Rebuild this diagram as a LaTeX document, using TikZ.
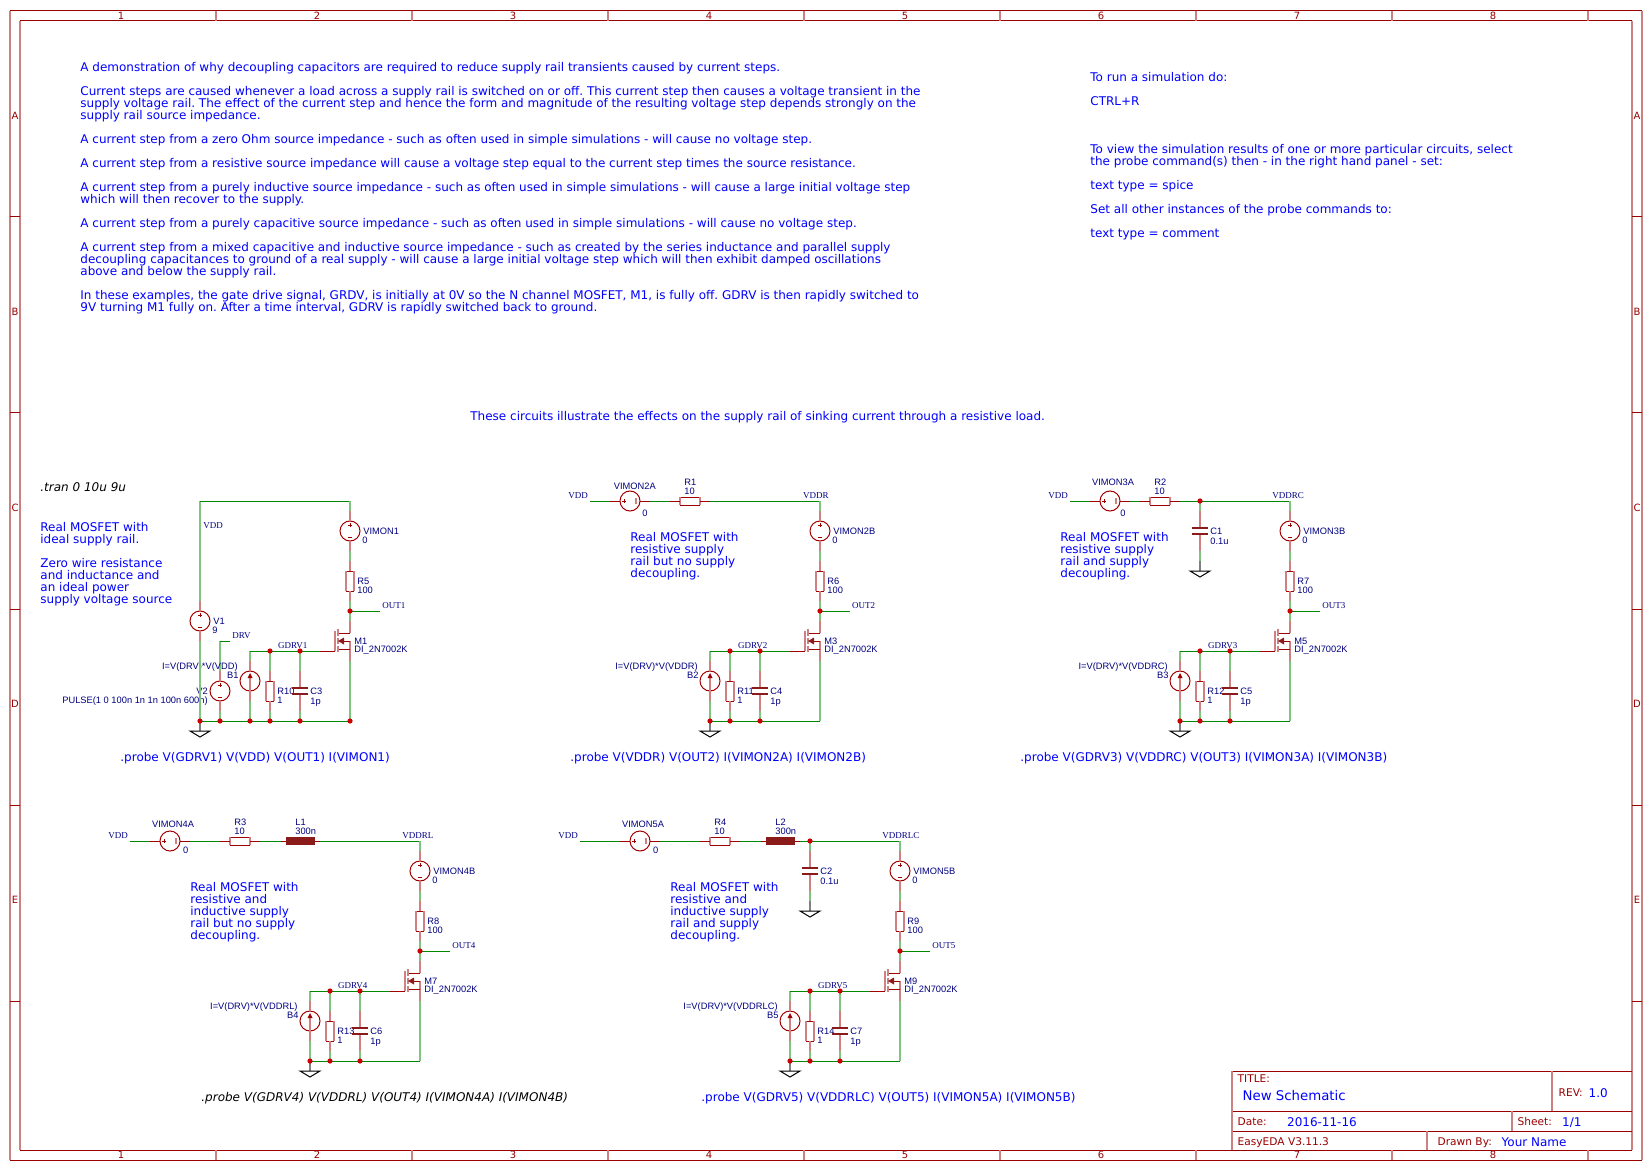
\documentclass[tikz,border=0pt]{standalone}
\usepackage{fontspec}
\usepackage{xcolor}
\usepackage{tikz}
\setmainfont{DejaVu Sans}
\newfontfamily\partfont{Liberation Sans}
\newfontfamily\netfont{Liberation Serif}
\definecolor{framered}{HTML}{990000}
\definecolor{partred}{HTML}{A00000}
\definecolor{platered}{HTML}{8B1A1A}
\definecolor{wiregreen}{HTML}{008800}
\definecolor{jointred}{HTML}{CC0000}
\definecolor{labelnavy}{HTML}{000080}
\tikzset{
  wire/.style={line width=0.5pt,wiregreen},
  wirev/.style={line width=1pt,wiregreen!50},
  part/.style={line width=0.5pt,partred},
  partv/.style={line width=1pt,partred!50},
  frame/.style={line width=0.5pt,framered},
  framev/.style={line width=1pt,framered!50},
  plate/.style={line width=1.25pt,platered},
  srcshape/.style={circle,draw,part,minimum size=10pt,inner sep=0pt,outer sep=0pt},
  resshape/.style={rectangle,inner sep=0pt,outer sep=0pt},
  joint/.style={circle,fill=jointred,minimum size=2.6pt,inner sep=0pt},
  partlabel/.style={anchor=base west,inner sep=0pt,yshift=-1.8pt,labelnavy,font=\partfont\fontsize{4.65}{4.65}\selectfont},
  exprlabel/.style={partlabel,anchor=base east},
  netlabel/.style={anchor=base west,inner sep=0pt,yshift=-1.2pt,labelnavy,font=\netfont\fontsize{4.5}{4.5}\selectfont},
  framelabel/.style={inner sep=0pt,framered,font=\fontsize{5}{5}\selectfont},
  titlelabel/.style={anchor=base west,inner sep=0pt,yshift=-1.7pt,framered,font=\fontsize{5.3}{5.3}\selectfont},
  titleval/.style={anchor=base west,inner sep=0pt,yshift=-2.2pt,blue,font=\fontsize{6}{6}\selectfont},
  note/.style={anchor=north west,inner sep=0pt,yshift=-0.5pt,align=left,blue,font=\fontsize{6}{6}\selectfont},
  probe/.style={anchor=base west,inner sep=0pt,yshift=-1.7pt,blue,font=\fontsize{6}{6}\selectfont},
  spicecmd/.style={probe,black,font=\fontsize{6}{6}\selectfont\itshape}
}
% source drawn upright, + on top
\newcommand{\srcbody}[3]{
  \node[srcshape] (#1) at (#2,#3) {};
  \draw[partv] (#1.north) -- ++(0,-10) coordinate (#1t);
  \draw[partv] (#1.south) -- ++(0,10) coordinate (#1b);
  \draw[part] (#2-2,#3-6) -- (#2+2,#3-6) (#2,#3-8) -- (#2,#3-4);
  \draw[part] (#2-2,#3+6) -- (#2+2,#3+6);
}
\newcommand{\vsource}[5]{
  \srcbody{#1}{#2}{#3}
  \node[partlabel] (#1name) at (#2+13,#3) {#4};
  \node[partlabel] (#1val) at (#2+12,#3+9) {#5};
}
% source lying down, + on the left
\newcommand{\hsource}[3]{
  \node[srcshape] (#1) at (#2,#3) {};
  \draw[part] (#1.west) -- ++(-10,0) coordinate (#1l);
  \draw[part] (#1.east) -- ++(10,0) coordinate (#1r);
  \draw[part] (#2-8,#3) -- (#2-4,#3) (#2-6,#3-2) -- (#2-6,#3+2);
  \draw[partv] (#2+6,#3-3) -- (#2+6,#3+3);
}
\newcommand{\isource}[5]{
  \node[srcshape] (#1) at (#2,#3) {};
  \draw[partv] (#2,#3-10) -- ++(0,-10) coordinate (#1t);
  \draw[partv] (#2,#3+20) coordinate (#1b) -- (#2,#3-6);
  \fill[partred] (#2,#3-8) -- (#2-2.5,#3-3) -- (#2+2.5,#3-3) -- cycle;
  \node[partlabel] (#1name) at (#2-23.3,#3-6) {#4};
  \node[exprlabel] (#1expr) at (#2-12,#3-15) {#5};
}
\newcommand{\resv}[5]{
  \node[resshape,minimum width=4pt,minimum height=10pt] (#1) at (#2,#3) {};
  \draw[part] (#1.north west) -- (#1.north east) (#1.south west) -- (#1.south east);
  \draw[partv] (#1.north west) -- (#1.south west) (#1.north east) -- (#1.south east);
  \draw[partv] (#1.north) -- ++(0,-10) coordinate (#1t);
  \draw[partv] (#1.south) -- ++(0,10) coordinate (#1b);
  \node[partlabel] (#1name) at (#2+7,#3) {#4};
  \node[partlabel] (#1val) at (#2+7,#3+9) {#5};
}
\newcommand{\resh}[5]{
  \node[resshape,minimum width=10pt,minimum height=4pt] (#1) at (#2,#3) {};
  \draw[part] (#1.north west) -- (#1.north east) (#1.south west) -- (#1.south east);
  \draw[partv] (#1.north west) -- (#1.south west) (#1.north east) -- (#1.south east);
  \draw[part] (#1.west) -- ++(-10,0) coordinate (#1l);
  \draw[part] (#1.east) -- ++(10,0) coordinate (#1r);
  \node[partlabel] (#1name) at (#2-6,#3-19) {#4};
  \node[partlabel] (#1val) at (#2-6,#3-10) {#5};
}
\newcommand{\indh}[5]{
  \node[rectangle,fill=platered,minimum width=14.5pt,minimum height=4pt,inner sep=0pt,outer sep=0pt] (#1) at (#2,#3) {};
  \draw[part] (#1.west) -- ++(-5,0) coordinate (#1l);
  \draw[part] (#1.east) -- ++(5,0) coordinate (#1r);
  \node[partlabel] (#1name) at (#2-5,#3-19) {#4};
  \node[partlabel] (#1val) at (#2-5,#3-10) {#5};
}
\newcommand{\capv}[5]{
  \coordinate (#1) at (#2,#3);
  \draw[partv] (#2,#3-3) -- (#2,#3-20) coordinate (#1t);
  \draw[partv] (#2,#3+3) -- (#2,#3+20) coordinate (#1b);
  \draw[plate] (#2-8,#3-3) -- (#2+8,#3-3);
  \draw[plate] (#2-8,#3+3) -- (#2+8,#3+3);
  \node[partlabel] (#1name) at (#2+10,#3) {#4};
  \node[partlabel] (#1val) at (#2+10,#3+10) {#5};
}
% x is the drain line, y the gate line
\newcommand{\nmos}[4]{
  \coordinate (#1d) at (#2,#3-30);
  \coordinate (#1g) at (#2-30,#3);
  \coordinate (#1s) at (#2,#3+10);
  \draw[partv] (#1d) -- (#2,#3-18);
  \draw[part] (#2,#3-18) -- (#2-12,#3-18);
  \draw[partv] (#1s) -- (#2,#3-10);
  \draw[part] (#2,#3-10) -- (#2-6,#3-10);
  \draw[part] (#2,#3-2) -- (#2-12,#3-2);
  \draw[part] (#1g) -- (#2-15,#3);
  \draw[partv] (#2-15,#3) -- (#2-15,#3-20);
  \draw[partv] (#2-12,#3-22) -- (#2-12,#3-15) (#2-12,#3-13) -- (#2-12,#3-7) (#2-12,#3-5) -- (#2-12,#3+1);
  \fill[platered] (#2-12,#3-10) -- (#2-6,#3-13.5) -- (#2-6,#3-6.5) -- cycle;
  \node[partlabel] (#1name) at (#2+4,#3-10) {#4};
  \node[partlabel] (#1model) at (#2+4,#3-2) {DI\_2N7002K};
}
\newcommand{\gnd}[3]{
  \coordinate (#1) at (#2,#3);
  \draw[line width=1pt,black!50] (#1) -- (#2,#3+10);
  \draw[line width=0.5pt,black] (#2-10,#3+10) -- (#2+10,#3+10) -- (#2,#3+16) -- cycle;
}
\begin{document}
\frenchspacing
\begin{tikzpicture}[x=0.5pt,y=-0.5pt]
\useasboundingbox (0,0) rectangle (1652,1170);
\begin{scope}[shift={(0,1)}]
  % sheet border
  \draw[frame] (10,10) -- (1642,10) (20,20) -- (1632,20) (20,1149) -- (1632,1149) (10,1159) -- (1642,1159);
  \draw[framev] (10,10) -- (10,1159) (20,20) -- (20,1149) (1632,20) -- (1632,1149) (1642,10) -- (1642,1159);
  \foreach \x in {216,412,...,1588} {
    \draw[framev] (\x,10) -- (\x,20);
    \draw[framev] (\x,1149) -- (\x,1159);
  }
  \foreach \y in {216,412,...,1000} {
    \draw[frame] (10,\y) -- (20,\y);
    \draw[frame] (1632,\y) -- (1642,\y);
  }
  \foreach \n in {1,...,8} {
    \node[framelabel] (coltop\n) at ({121+196*(\n-1)},15) {\n};
    \node[framelabel] (colbot\n) at ({121+196*(\n-1)},1154) {\n};
  }
  \foreach \r [count=\i from 0] in {A,B,C,D,E} {
    \node[framelabel] (rowl\r) at (15,{115+196*\i}) {\r};
    \node[framelabel] (rowr\r) at (1637,{115+196*\i}) {\r};
  }
  % title block
  \draw[frame] (1232,1070) -- (1632,1070) (1232,1110) -- (1632,1110) (1232,1130) -- (1632,1130);
  \draw[framev] (1232,1070) -- (1232,1149) (1552,1070) -- (1552,1110) (1512,1110) -- (1512,1130) (1427,1130) -- (1427,1149);
  \node[titlelabel] (titlekey) at (1237.3,1078) {TITLE:};
  \node[titleval,font=\fontsize{6.65}{6.65}\selectfont] (titleval) at (1242.3,1095) {New Schematic};
  \node[titlelabel] (revkey) at (1558.3,1092) {REV:};
  \node[titleval] (revval) at (1588.3,1092) {1.0};
  \node[titlelabel] (datekey) at (1237.3,1121) {Date:};
  \node[titleval] (dateval) at (1286.7,1121) {2016-11-16};
  \node[titlelabel] (sheetkey) at (1517.3,1121) {Sheet:};
  \node[titleval] (sheetval) at (1561.7,1121) {1/1};
  \node[titlelabel] (toolkey) at (1237.3,1141) {EasyEDA V3.11.3};
  \node[titlelabel] (bykey) at (1437.3,1141) {Drawn By:};
  \node[titleval] (byval) at (1501.3,1141) {Your Name};
  % explanations
  \node[note] (intro) at (80,59.5) {A demonstration of why decoupling capacitors are required to reduce supply rail transients caused by current steps.\\[6pt]
    Current steps are caused whenever a load across a supply rail is switched on or off. This current step then causes a voltage transient in the\\
    supply voltage rail. The effect of the current step and hence the form and magnitude of the resulting voltage step depends strongly on the\\
    supply rail source impedance.\\[6pt]
    A current step from a zero Ohm source impedance - such as often used in simple simulations - will cause no voltage step.\\[6pt]
    A current step from a resistive source impedance will cause a voltage step equal to the current step times the source resistance.\\[6pt]
    A current step from a purely inductive source impedance - such as often used in simple simulations - will cause a large initial voltage step\\
    which will then recover to the supply.\\[6pt]
    A current step from a purely capacitive source impedance - such as often used in simple simulations - will cause no voltage step.\\[6pt]
    A current step from a mixed capacitive and inductive source impedance - such as created by the series inductance and parallel supply\\
    decoupling capacitances to ground of a real supply - will cause a large initial voltage step which will then exhibit damped oscillations\\
    above and below the supply rail.\\[6pt]
    In these examples, the gate drive signal, GRDV, is initially at 0V so the N channel MOSFET, M1, is fully off. GDRV is then rapidly switched to\\
    9V turning M1 fully on. After a time interval, GDRV is rapidly switched back to ground.};
  \node[note] (howto) at (1090,69.5) {To run a simulation do:\\[6pt]
    CTRL+R\\[18pt]
    To view the simulation results of one or more particular circuits, select\\
    the probe command(s) then - in the right hand panel - set:\\[6pt]
    text type = spice\\[6pt]
    Set all other instances of the probe commands to:\\[6pt]
    text type = comment};
  \node[probe] (heading) at (470,416) {These circuits illustrate the effects on the supply rail of sinking current through a resistive load.};
  \node[spicecmd] (tran) at (40,487) {.tran 0 10u 9u};
  % circuit 1
  \node[note] (note1) at (40,520) {Real MOSFET with\\ideal supply rail.\\[6pt]Zero wire resistance\\and inductance and\\an ideal power\\supply voltage source};
  \coordinate (corner1) at (200,500);
  \coordinate (rail1) at (350,500);
  \coordinate (out1) at (350,610);
  \coordinate (outend1) at (380,610);
  \coordinate (drvc) at (220,640);
  \coordinate (drv1) at (230,640);
  \coordinate (g1a) at (250,650);
  \coordinate (g1b) at (270,650);
  \coordinate (g1c) at (300,650);
  \coordinate (r1a) at (200,720);
  \coordinate (r1b) at (220,720);
  \coordinate (r1c) at (250,720);
  \coordinate (r1d) at (270,720);
  \coordinate (r1e) at (300,720);
  \coordinate (r1f) at (350,720);
  \vsource{V1}{200}{620}{V1}{9}
  \vsource{VIMON1}{350}{530}{VIMON1}{0}
  \resv{R5}{350}{580}{R5}{100}
  \nmos{M1}{350}{650}{M1}
  \srcbody{V2}{220}{690}
  \draw[wirev] (V2t) -- (drvc);
  \draw[wire] (drvc) -- (drv1);
  \draw[wirev] (V2b) -- (r1b);
  \node[partlabel] (V2name) at (196,690) {V2};
  \node[partlabel] (V2val) at (62,699.3) {PULSE(1 0 100n 1n 1n 100n 600n)};
  \isource{B1}{250}{680}{B1}{I=V(DRV)*V(VDD)}
  \resv{R10}{270}{690}{R10}{1}
  \capv{C3}{300}{690}{C3}{1p}
  \gnd{G1}{200}{720}
  \draw[wirev] (V1t) -- (corner1);
  \draw[wire] (corner1) -- (rail1);
  \draw[wirev] (rail1) -- (VIMON1t);
  \draw[wirev] (VIMON1b) -- (R5t);
  \draw[wirev] (R5b) -- (out1) -- (M1d);
  \draw[wire] (out1) -- (outend1);
  \draw[wirev] (V1b) -- (r1a);
  \draw[wire] (r1a) -- (r1f);
  \draw[wirev] (r1f) -- (M1s);
  \draw[wirev] (B1t) -- (g1a);
  \draw[wire] (g1a) -- (M1g);
  \draw[wirev] (B1b) -- (r1c);
  \draw[wirev] (g1b) -- (R10t) (R10b) -- (r1d);
  \draw[wirev] (g1c) -- (C3t) (C3b) -- (r1e);
  \foreach \p in {out1,g1b,g1c,r1a,r1b,r1c,r1d,r1e,r1f} \node[joint] (dot\p) at (\p) {};
  \node[netlabel] (netvdd1) at (203,525) {VDD};
  \node[netlabel] (netdrv) at (232,635) {DRV};
  \node[netlabel] (netgdrv1) at (277.7,645) {GDRV1};
  \node[netlabel] (netout1) at (382,605) {OUT1};
  \node[probe] (probe1) at (120,757) {.probe V(GDRV1) V(VDD) V(OUT1) I(VIMON1)};
  % circuit 2
  \node[note] (note2) at (630,530) {Real MOSFET with\\resistive supply\\rail but no supply\\decoupling.};
  \coordinate (vdd2) at (590,500);
  \hsource{VIMON2A}{630}{500}
  \node[partlabel] (VIMON2Aname) at (613.5,484.5) {VIMON2A};
  \node[partlabel] (VIMON2Aval) at (642,512) {0};
  \resh{R1}{690}{500}{R1}{10}
  \vsource{VIMON2B}{820}{530}{VIMON2B}{0}
  \resv{R6}{820}{580}{R6}{100}
  \nmos{M3}{820}{650}{M3}
  \isource{B2}{710}{680}{B2}{I=V(DRV)*V(VDDR)}
  \resv{R11}{730}{690}{R11}{1}
  \capv{C4}{760}{690}{C4}{1p}
  \coordinate (rail2) at (820,500);
  \coordinate (out2) at (820,610);
  \coordinate (outend2) at (850,610);
  \coordinate (g2a) at (710,650);
  \coordinate (g2b) at (730,650);
  \coordinate (g2c) at (760,650);
  \coordinate (r2a) at (710,720);
  \coordinate (r2b) at (730,720);
  \coordinate (r2c) at (760,720);
  \coordinate (r2d) at (820,720);
  \gnd{G2}{710}{720}
  \draw[wire] (vdd2) -- (VIMON2Al);
  \draw[wire] (VIMON2Ar) -- (R1l);
  \draw[wire] (R1r) -- (rail2);
  \draw[wirev] (rail2) -- (VIMON2Bt);
  \draw[wirev] (VIMON2Bb) -- (R6t);
  \draw[wirev] (R6b) -- (out2) -- (M3d);
  \draw[wire] (out2) -- (outend2);
  \draw[wirev] (B2t) -- (g2a);
  \draw[wire] (g2a) -- (M3g);
  \draw[wirev] (B2b) -- (r2a);
  \draw[wire] (r2a) -- (r2d);
  \draw[wirev] (r2d) -- (M3s);
  \draw[wirev] (g2b) -- (R11t) (R11b) -- (r2b);
  \draw[wirev] (g2c) -- (C4t) (C4b) -- (r2c);
  \foreach \p in {out2,g2b,g2c,r2a,r2b,r2c} \node[joint] (dot\p) at (\p) {};
  \node[netlabel] (netvdd2) at (568,495) {VDD};
  \node[netlabel] (netvddr) at (802.7,495) {VDDR};
  \node[netlabel] (netgdrv2) at (737.7,645) {GDRV2};
  \node[netlabel] (netout2) at (851.7,605) {OUT2};
  \node[probe] (probe2) at (570,757) {.probe V(VDDR) V(OUT2) I(VIMON2A) I(VIMON2B)};
  % circuit 3
  \node[note] (note3) at (1060,530) {Real MOSFET with\\resistive supply\\rail and supply\\decoupling.};
  \coordinate (vdd3) at (1070,500);
  \hsource{VIMON3A}{1110}{500}
  \node[partlabel] (VIMON3Aname) at (1091.7,481) {VIMON3A};
  \node[partlabel] (VIMON3Aval) at (1120,512) {0};
  \resh{R2}{1160}{500}{R2}{10}
  \capv{C1}{1200}{530}{C1}{0.1u}
  \vsource{VIMON3B}{1290}{530}{VIMON3B}{0}
  \resv{R7}{1290}{580}{R7}{100}
  \nmos{M5}{1290}{650}{M5}
  \isource{B3}{1180}{680}{B3}{I=V(DRV)*V(VDDRC)}
  \resv{R12}{1200}{690}{R12}{1}
  \capv{C5}{1230}{690}{C5}{1p}
  \coordinate (c3top) at (1200,500);
  \coordinate (rail3) at (1290,500);
  \coordinate (out3) at (1290,610);
  \coordinate (outend3) at (1320,610);
  \coordinate (g3a) at (1180,650);
  \coordinate (g3b) at (1200,650);
  \coordinate (g3c) at (1230,650);
  \coordinate (r3a) at (1180,720);
  \coordinate (r3b) at (1200,720);
  \coordinate (r3c) at (1230,720);
  \coordinate (r3d) at (1290,720);
  \gnd{G3}{1180}{720}
  \gnd{G3c}{1200}{560}
  \draw[wire] (vdd3) -- (VIMON3Al);
  \draw[wire] (VIMON3Ar) -- (R2l);
  \draw[wire] (R2r) -- (c3top);
  \draw[wire] (c3top) -- (rail3);
  \draw[wirev] (rail3) -- (VIMON3Bt);
  \draw[wirev] (c3top) -- (C1t) (C1b) -- (G3c);
  \draw[wirev] (VIMON3Bb) -- (R7t);
  \draw[wirev] (R7b) -- (out3) -- (M5d);
  \draw[wire] (out3) -- (outend3);
  \draw[wirev] (B3t) -- (g3a);
  \draw[wire] (g3a) -- (M5g);
  \draw[wirev] (B3b) -- (r3a);
  \draw[wire] (r3a) -- (r3d);
  \draw[wirev] (r3d) -- (M5s);
  \draw[wirev] (g3b) -- (R12t) (R12b) -- (r3b);
  \draw[wirev] (g3c) -- (C5t) (C5b) -- (r3c);
  \foreach \p in {c3top,out3,g3b,g3c,r3a,r3b,r3c} \node[joint] (dot\p) at (\p) {};
  \node[netlabel] (netvdd3) at (1048,495) {VDD};
  \node[netlabel] (netvddrc) at (1272,495) {VDDRC};
  \node[netlabel] (netgdrv3) at (1207.7,645) {GDRV3};
  \node[netlabel] (netout3) at (1322,605) {OUT3};
  \node[probe] (probe3) at (1020,757) {.probe V(GDRV3) V(VDDRC) V(OUT3) I(VIMON3A) I(VIMON3B)};
  % circuit 4
  \node[note] (note4) at (190,880) {Real MOSFET with\\resistive and\\inductive supply\\rail but no supply\\decoupling.};
  \coordinate (vdd4) at (130,840);
  \hsource{VIMON4A}{170}{840}
  \node[partlabel] (VIMON4Aname) at (151.7,822.7) {VIMON4A};
  \node[partlabel] (VIMON4Aval) at (182.7,849) {0};
  \resh{R3}{240}{840}{R3}{10}
  \indh{L1}{300}{840}{L1}{300n}
  \vsource{VIMON4B}{420}{870}{VIMON4B}{0}
  \resv{R8}{420}{920}{R8}{100}
  \nmos{M7}{420}{990}{M7}
  \isource{B4}{310}{1020}{B4}{I=V(DRV)*V(VDDRL)}
  \resv{R13}{330}{1030}{R13}{1}
  \capv{C6}{360}{1030}{C6}{1p}
  \coordinate (rail4) at (420,840);
  \coordinate (out4) at (420,950);
  \coordinate (outend4) at (450,950);
  \coordinate (g4a) at (310,990);
  \coordinate (g4b) at (330,990);
  \coordinate (g4c) at (360,990);
  \coordinate (r4a) at (310,1060);
  \coordinate (r4b) at (330,1060);
  \coordinate (r4c) at (360,1060);
  \coordinate (r4d) at (420,1060);
  \gnd{G4}{310}{1060}
  \draw[wire] (vdd4) -- (VIMON4Al);
  \draw[wire] (VIMON4Ar) -- (R3l);
  \draw[wire] (R3r) -- (L1l);
  \draw[wire] (L1r) -- (rail4);
  \draw[wirev] (rail4) -- (VIMON4Bt);
  \draw[wirev] (VIMON4Bb) -- (R8t);
  \draw[wirev] (R8b) -- (out4) -- (M7d);
  \draw[wire] (out4) -- (outend4);
  \draw[wirev] (B4t) -- (g4a);
  \draw[wire] (g4a) -- (M7g);
  \draw[wirev] (B4b) -- (r4a);
  \draw[wire] (r4a) -- (r4d);
  \draw[wirev] (r4d) -- (M7s);
  \draw[wirev] (g4b) -- (R13t) (R13b) -- (r4b);
  \draw[wirev] (g4c) -- (C6t) (C6b) -- (r4c);
  \foreach \p in {out4,g4b,g4c,r4a,r4b,r4c} \node[joint] (dot\p) at (\p) {};
  \node[netlabel] (netvdd4) at (108,835) {VDD};
  \node[netlabel] (netvddrl) at (402,835) {VDDRL};
  \node[netlabel] (netgdrv4) at (337.7,985) {GDRV4};
  \node[netlabel] (netout4) at (452,945) {OUT4};
  \node[spicecmd] (probe4) at (201,1097) {.probe V(GDRV4) V(VDDRL) V(OUT4) I(VIMON4A) I(VIMON4B)};
  % circuit 5
  \node[note] (note5) at (670,880) {Real MOSFET with\\resistive and\\inductive supply\\rail and supply\\decoupling.};
  \coordinate (vdd5) at (580,840);
  \hsource{VIMON5A}{640}{840}
  \node[partlabel] (VIMON5Aname) at (621.7,822.7) {VIMON5A};
  \node[partlabel] (VIMON5Aval) at (652.7,849) {0};
  \resh{R4}{720}{840}{R4}{10}
  \indh{L2}{780}{840}{L2}{300n}
  \capv{C2}{810}{870}{C2}{0.1u}
  \vsource{VIMON5B}{900}{870}{VIMON5B}{0}
  \resv{R9}{900}{920}{R9}{100}
  \nmos{M9}{900}{990}{M9}
  \isource{B5}{790}{1020}{B5}{I=V(DRV)*V(VDDRLC)}
  \resv{R14}{810}{1030}{R14}{1}
  \capv{C7}{840}{1030}{C7}{1p}
  \coordinate (c5top) at (810,840);
  \coordinate (rail5) at (900,840);
  \coordinate (out5) at (900,950);
  \coordinate (outend5) at (930,950);
  \coordinate (g5a) at (790,990);
  \coordinate (g5b) at (810,990);
  \coordinate (g5c) at (840,990);
  \coordinate (r5a) at (790,1060);
  \coordinate (r5b) at (810,1060);
  \coordinate (r5c) at (840,1060);
  \coordinate (r5d) at (900,1060);
  \gnd{G5}{790}{1060}
  \gnd{G5c}{810}{900}
  \draw[wire] (vdd5) -- (VIMON5Al);
  \draw[wire] (VIMON5Ar) -- (R4l);
  \draw[wire] (R4r) -- (L2l);
  \draw[wire] (L2r) -- (c5top);
  \draw[wire] (c5top) -- (rail5);
  \draw[wirev] (rail5) -- (VIMON5Bt);
  \draw[wirev] (c5top) -- (C2t) (C2b) -- (G5c);
  \draw[wirev] (VIMON5Bb) -- (R9t);
  \draw[wirev] (R9b) -- (out5) -- (M9d);
  \draw[wire] (out5) -- (outend5);
  \draw[wirev] (B5t) -- (g5a);
  \draw[wire] (g5a) -- (M9g);
  \draw[wirev] (B5b) -- (r5a);
  \draw[wire] (r5a) -- (r5d);
  \draw[wirev] (r5d) -- (M9s);
  \draw[wirev] (g5b) -- (R14t) (R14b) -- (r5b);
  \draw[wirev] (g5c) -- (C7t) (C7b) -- (r5c);
  \foreach \p in {c5top,out5,g5b,g5c,r5a,r5b,r5c} \node[joint] (dot\p) at (\p) {};
  \node[netlabel] (netvdd5) at (558,835) {VDD};
  \node[netlabel] (netvddrlc) at (882,835) {VDDRLC};
  \node[netlabel] (netgdrv5) at (817.7,985) {GDRV5};
  \node[netlabel] (netout5) at (932,945) {OUT5};
  \node[probe] (probe5) at (701,1097) {.probe V(GDRV5) V(VDDRLC) V(OUT5) I(VIMON5A) I(VIMON5B)};
\end{scope}
\end{tikzpicture}
\end{document}
